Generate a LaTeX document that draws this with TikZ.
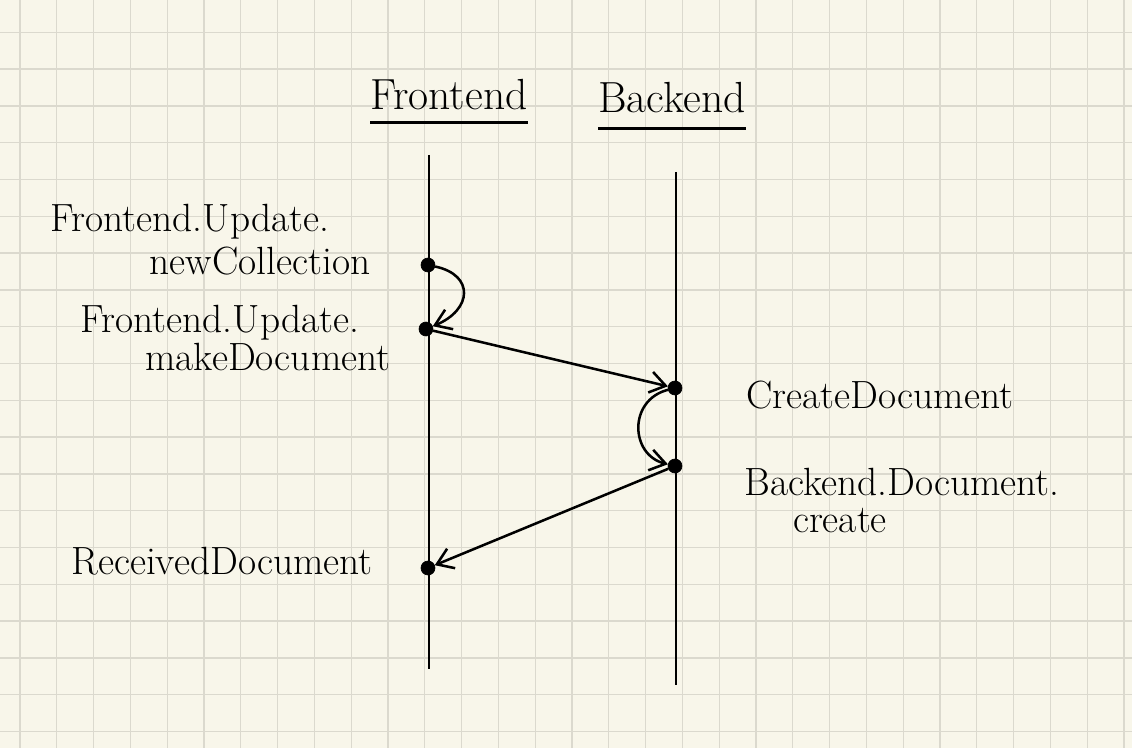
\documentclass[tikz,border=0pt]{standalone}
\usetikzlibrary{arrows.meta}
\definecolor{paper}{RGB}{248,246,234}
\definecolor{gridc}{RGB}{219,217,206}

\begin{document}
\begin{tikzpicture}[
  x=0.025cm, y=-0.025cm,
  every node/.style={inner sep=0pt},
  gridline/.style={draw=gridc,line width=0.9pt},
  life/.style={line width=2pt},
  ul/.style={line width=1.8pt},
  dotF/.style={circle,fill=black,draw=black,minimum size=10pt,inner sep=0pt},
  msg/.style={line width=1.8pt,-{Straight Barb[length=11pt,width=15pt]}},
  lab/.style={font=\fontsize{28}{32}\selectfont,anchor=base},
  ttl/.style={font=\fontsize{31}{36}\selectfont,anchor=base},
]
  % ============ paper ============
  \useasboundingbox (0,0) rectangle (1132,748);
  \fill[paper] (0,0) rectangle (1132,748);
  \foreach \i in {0,...,30}
    \draw[gridline] ({20+36.8*\i},0) -- ++(0,748);
  \foreach \j in {0,...,19}
    \draw[gridline] (0,{32.3+36.8*\j}) -- ++(1132,0);
  % ============ headings ============
  \node[ttl] (hfe) at (449,110) {Frontend};
  \node[ttl] (hbe) at (672,113) {Backend};
  \draw[ul] ([yshift=-9pt]hfe.base west) -- ([yshift=-9pt]hfe.base east);
  \draw[ul] ([yshift=-11pt]hbe.base west) -- ([yshift=-11pt]hbe.base east);
  % ============ lifelines ============
  \coordinate (ftop) at (429,155);
  \coordinate (fbot) at (429,669);
  \coordinate (btop) at (676,172);
  \coordinate (bbot) at (676,685);
  \draw[life] (ftop) -- (fbot);
  \draw[life] (btop) -- (bbot);
  % ============ events ============
  \node[dotF] (f1) at (428,265) {};
  \node[dotF] (f2) at (426,329) {};
  \node[dotF] (f3) at (428,568) {};
  \node[dotF] (b1) at (675,388) {};
  \node[dotF] (b2) at (675,466) {};
  \draw[msg] (f1) .. controls (475,275) and (472,310) .. (f2);
  \draw[msg] (f2) -- (b1);
  \draw[msg] (b1) .. controls (628,400) and (630,455) .. (b2);
  \draw[msg] (b2) -- (f3);
  % ============ labels ============
  \node[lab] (l1a) at (190,232) {Frontend.Update.};
  \node[lab] (l1b) at (260,274) {newCollection};
  \node[lab] (l2a) at (220,332) {Frontend.Update.};
  \node[lab] (l2b) at (268,370) {makeDocument};
  \node[lab] (l3) at (880,408) {CreateDocument};
  \node[lab] (l4a) at (902,495) {Backend.Document.};
  \node[lab] (l4b) at (840,532) {create};
  \node[lab] (l5) at (222,574) {ReceivedDocument};
\end{tikzpicture}
\end{document}
